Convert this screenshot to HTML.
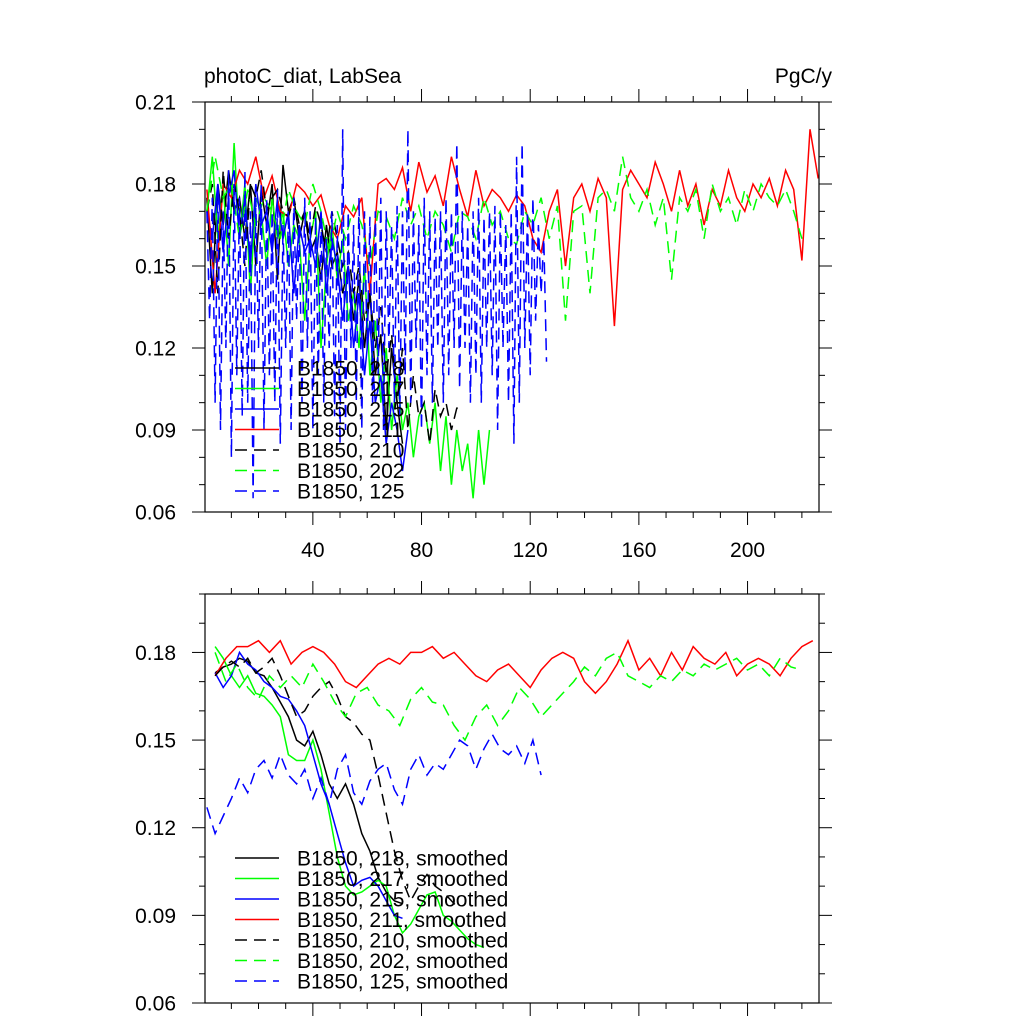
<!DOCTYPE html>
<html><head><meta charset="utf-8"><style>
body{margin:0;background:#fff}
svg text{font-family:"Liberation Sans",sans-serif;fill:#000}
</style></head><body>
<svg id="c" width="1024" height="1024" xmlns="http://www.w3.org/2000/svg"></svg>
<script>
// ---- data ----
const xTicks=[40,80,120,160,200];
const yTicksTop=[0.06,0.09,0.12,0.15,0.18,0.21];
const yTicksBot=[0.06,0.09,0.12,0.15,0.18];
const labels=["B1850, 218","B1850, 217","B1850, 215","B1850, 211","B1850, 210","B1850, 202","B1850, 125"];
const colors=["#000","#00ff00","#0000ff","#ff0000","#000","#00ff00","#0000ff"];
const dashed=[false,false,false,false,true,true,true];
// raw series: start, step, values
const raw218=[0.175,0.14,0.18,0.165,0.185,0.17,0.175,0.16,0.18,0.15,0.178,0.165,0.18,0.145,0.187,0.17,0.175,0.16,0.17,0.155,0.16,0.145,0.165,0.15,0.155,0.14,0.15,0.13,0.145,0.12,0.14,0.11,0.125,0.09,0.12,0.1,0.085];
const raw217=[0.17,0.19,0.16,0.18,0.15,0.195,0.16,0.18,0.14,0.175,0.17,0.15,0.175,0.16,0.17,0.15,0.165,0.16,0.13,0.16,0.17,0.12,0.15,0.165,0.145,0.16,0.13,0.14,0.12,0.15,0.11,0.13,0.1,0.12,0.09,0.11,0.09,0.1,0.08,0.095,0.1,0.085,0.1,0.075,0.095,0.07,0.09,0.075,0.085,0.065,0.09,0.07,0.09];
const raw215=[0.17,0.16,0.18,0.155,0.175,0.185,0.16,0.175,0.15,0.18,0.165,0.17,0.155,0.175,0.16,0.17,0.14,0.165,0.155,0.16,0.15,0.17,0.14,0.16,0.15,0.13,0.15,0.12,0.14,0.11,0.13,0.1,0.11,0.085,0.1,0.09,0.075,0.09];
const raw211=[0.178,0.14,0.18,0.175,0.185,0.18,0.19,0.175,0.183,0.17,0.168,0.18,0.177,0.172,0.176,0.165,0.16,0.172,0.168,0.175,0.14,0.18,0.182,0.178,0.186,0.17,0.188,0.177,0.183,0.172,0.19,0.178,0.168,0.185,0.172,0.178,0.175,0.17,0.176,0.172,0.16,0.155,0.17,0.178,0.15,0.175,0.18,0.17,0.182,0.175,0.128,0.178,0.185,0.18,0.175,0.188,0.18,0.17,0.185,0.172,0.18,0.165,0.178,0.172,0.185,0.175,0.17,0.18,0.175,0.182,0.172,0.185,0.178,0.152,0.2,0.182];
const raw210=[0.17,0.18,0.14,0.185,0.16,0.18,0.17,0.15,0.18,0.175,0.185,0.17,0.175,0.178,0.17,0.168,0.175,0.165,0.17,0.16,0.172,0.165,0.155,0.17,0.16,0.15,0.155,0.14,0.15,0.13,0.14,0.12,0.135,0.11,0.125,0.1,0.12,0.09,0.11,0.095,0.1,0.085,0.105,0.095,0.1,0.09,0.098,0.098];
const raw202=[0.17,0.19,0.175,0.18,0.16,0.178,0.165,0.175,0.17,0.16,0.178,0.17,0.165,0.18,0.17,0.155,0.17,0.16,0.172,0.165,0.15,0.17,0.168,0.16,0.175,0.165,0.172,0.16,0.17,0.165,0.155,0.17,0.168,0.16,0.175,0.165,0.17,0.16,0.158,0.17,0.165,0.175,0.16,0.172,0.13,0.17,0.172,0.14,0.175,0.178,0.17,0.19,0.175,0.17,0.178,0.165,0.175,0.145,0.175,0.17,0.178,0.16,0.18,0.17,0.175,0.165,0.178,0.17,0.18,0.175,0.172,0.178,0.17,0.16];
const raw125=[0.17,0.13,0.175,0.1,0.18,0.09,0.17,0.12,0.185,0.08,0.18,0.11,0.175,0.095,0.185,0.1,0.17,0.065,0.175,0.12,0.18,0.09,0.175,0.11,0.17,0.1,0.178,0.085,0.165,0.12,0.17,0.09,0.175,0.13,0.165,0.1,0.175,0.12,0.17,0.09,0.168,0.11,0.17,0.1,0.16,0.12,0.17,0.095,0.165,0.085,0.2,0.09,0.17,0.12,0.165,0.1,0.175,0.09,0.17,0.12,0.168,0.1,0.17,0.11,0.175,0.09,0.17,0.12,0.165,0.1,0.172,0.095,0.17,0.11,0.2,0.1,0.17,0.12,0.165,0.09,0.175,0.11,0.17,0.1,0.168,0.12,0.17,0.1,0.175,0.11,0.17,0.12,0.195,0.105,0.17,0.12,0.165,0.1,0.17,0.11,0.175,0.1,0.168,0.12,0.17,0.11,0.172,0.09,0.17,0.12,0.165,0.1,0.17,0.085,0.19,0.1,0.195,0.12,0.17,0.11,0.175,0.13,0.165,0.14,0.16,0.115];
const rawStart=[1,1,1,1,1,1,1];
const rawStep=[2,2,2,3,2,3,1];
// smoothed
const sm218=[0.173,0.175,0.176,0.178,0.177,0.173,0.172,0.168,0.163,0.158,0.15,0.148,0.153,0.145,0.135,0.13,0.135,0.128,0.118,0.112,0.103,0.098,0.095,0.094];
const sm217=[0.182,0.178,0.172,0.168,0.172,0.166,0.165,0.162,0.158,0.145,0.143,0.143,0.15,0.14,0.125,0.11,0.1,0.097,0.098,0.1,0.102,0.1,0.09,0.084,0.087,0.092,0.097,0.098,0.09,0.088,0.085,0.082,0.08,0.079];
const sm215=[0.173,0.168,0.172,0.18,0.176,0.174,0.17,0.168,0.165,0.164,0.16,0.155,0.145,0.135,0.128,0.118,0.108,0.1,0.102,0.103,0.1,0.095,0.09,0.089];
const sm211=[0.172,0.178,0.182,0.182,0.184,0.18,0.184,0.176,0.18,0.182,0.18,0.176,0.17,0.168,0.172,0.176,0.178,0.176,0.18,0.18,0.182,0.178,0.18,0.176,0.172,0.17,0.174,0.176,0.172,0.168,0.174,0.178,0.18,0.178,0.17,0.166,0.17,0.176,0.184,0.174,0.178,0.172,0.18,0.174,0.182,0.178,0.176,0.18,0.172,0.176,0.178,0.176,0.172,0.178,0.182,0.184];
const sm210=[0.172,0.175,0.177,0.175,0.178,0.173,0.175,0.178,0.172,0.165,0.158,0.16,0.165,0.168,0.17,0.165,0.158,0.156,0.152,0.15,0.138,0.125,0.112,0.102,0.095,0.1,0.104,0.1,0.098,0.095,0.092];
const sm202=[0.18,0.17,0.176,0.168,0.164,0.172,0.168,0.172,0.168,0.176,0.17,0.163,0.158,0.166,0.168,0.162,0.16,0.155,0.164,0.168,0.163,0.162,0.155,0.15,0.158,0.162,0.155,0.16,0.168,0.164,0.158,0.162,0.166,0.17,0.175,0.172,0.178,0.18,0.172,0.17,0.168,0.172,0.17,0.174,0.172,0.176,0.174,0.176,0.178,0.174,0.176,0.172,0.178,0.175,0.174];
const sm125=[0.127,0.118,0.124,0.13,0.137,0.132,0.14,0.143,0.137,0.145,0.138,0.135,0.14,0.13,0.137,0.128,0.14,0.145,0.132,0.128,0.136,0.14,0.142,0.133,0.128,0.14,0.145,0.138,0.142,0.14,0.145,0.15,0.148,0.14,0.147,0.152,0.147,0.145,0.148,0.142,0.15,0.138];
const smStart=[4,4,4,4,4,4,1];
const smStep=[3,3,3,4,3,4,3];

const NS="http://www.w3.org/2000/svg";
const svg=document.getElementById('c');
function mk(tag,attrs,parent){const e=document.createElementNS(NS,tag);for(const k in attrs)e.setAttribute(k,attrs[k]);(parent||svg).appendChild(e);return e;}
const L=205,R=819,X0=0.3,X1=226.3;
const xs=v=>L+(v-X0)*(R-L)/(X1-X0);
const FS=21;

function panel(name,top,bot,ymin,ymax,yTicks,xLabels,series,starts,steps,sfx,legendY){
  const g=mk('g',{});
  
  
  const ys=v=>bot-(v-ymin)*(bot-top)/(ymax-ymin);
  for(let v=10;v<X1;v+=10){const x=xs(v);const maj=v%40===0;const len=maj?13:6;
    let t=mk('line',{x1:x,x2:x,y1:bot,y2:bot+len,stroke:'#000','stroke-width':1},g);
    
    t=mk('line',{x1:x,x2:x,y1:top,y2:top-len,stroke:'#000','stroke-width':1},g);
    }
  for(let k=Math.round(ymin*100);k<=Math.round(ymax*100);k++){const v=k/100;const y=ys(v);const maj=(k%3===0);const len=maj?13:6;
    let t=mk('line',{x1:L,x2:L-len,y1:y,y2:y,stroke:'#000','stroke-width':1},g);
    
    t=mk('line',{x1:R,x2:R+len,y1:y,y2:y,stroke:'#000','stroke-width':1},g);
    }
  yTicks.forEach(v=>{const t=mk('text',{x:L-29,y:ys(v)+7.5,'text-anchor':'end','font-size':FS},g);t.textContent=v.toFixed(2);
    });
  if(xLabels)xTicks.forEach(v=>{const t=mk('text',{x:xs(v),y:bot+45,'text-anchor':'middle','font-size':FS},g);t.textContent=v;
    });
  const cp=mk('clipPath',{id:'cp'+name},g);mk('rect',{x:L,y:top,width:R-L,height:bot-top},cp);
  series.forEach((vals,i)=>{
    const pts=vals.map((v,j)=>xs(starts[i]+j*steps[i]).toFixed(1)+','+ys(v).toFixed(1)).join(' ');
    const p=mk('polyline',{points:pts,fill:'none',stroke:colors[i],'stroke-width':1.5,'clip-path':'url(#cp'+name+')'},g);
    if(dashed[i])p.setAttribute('stroke-dasharray','12,7');
    
    
  });
  const f=mk('rect',{x:L,y:top,width:R-L,height:bot-top,fill:'none',stroke:'#000','stroke-width':1.2},g);
  
  labels.forEach((lb,i)=>{const y=legendY+i*20.5;
    const lg=mk('g',{},g);
    
    
    const l=mk('line',{x1:235,x2:279,y1:y,y2:y,stroke:colors[i],'stroke-width':1.5},lg);
    if(dashed[i])l.setAttribute('stroke-dasharray','12,7');
    const t=mk('text',{x:297,y:y+7.5,'font-size':FS},lg);t.textContent=lb+sfx;});
}
panel('top-panel',102,512,0.06,0.21,yTicksTop,true,[raw218,raw217,raw215,raw211,raw210,raw202,raw125],rawStart,rawStep,'',368);
panel('bottom-panel',594,1003,0.06,0.2,yTicksBot,false,[sm218,sm217,sm215,sm211,sm210,sm202,sm125],smStart,smStep,', smoothed',858);
let t=mk('text',{x:204,y:83,'font-size':FS});t.textContent='photoC_diat, LabSea';

t=mk('text',{x:832,y:83,'font-size':FS,'text-anchor':'end'});t.textContent='PgC/y';

</script>
</body></html>
